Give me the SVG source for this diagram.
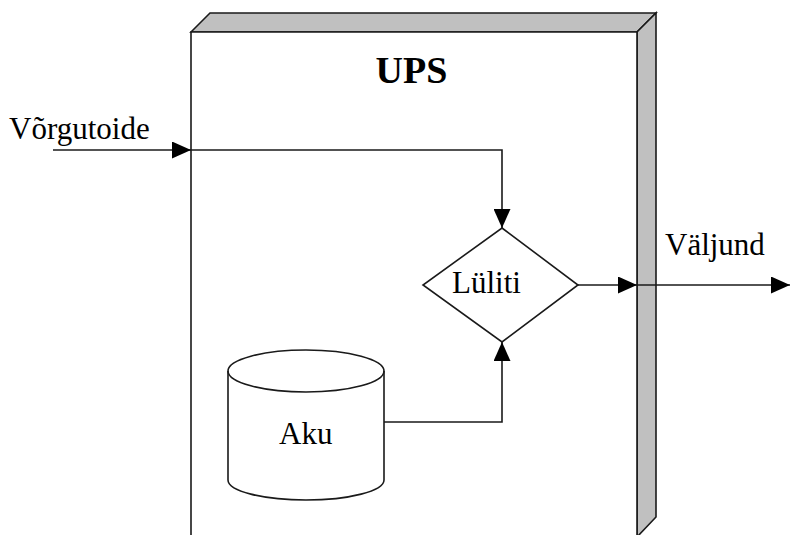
<svg xmlns="http://www.w3.org/2000/svg" width="790" height="535" viewBox="0 0 790 535">
<style>
.ln{fill:none;stroke:#1a1a1a;stroke-width:1.6}
.sh{stroke:#1a1a1a;stroke-width:1.6}
.t{font-family:"Liberation Serif","Times New Roman",serif;font-size:31px;fill:#000}
</style>
<defs>
<marker id="ah" viewBox="0 0 19 17" refX="19" refY="8.5" markerWidth="19" markerHeight="17" markerUnits="userSpaceOnUse" orient="auto">
<path d="M0,0 L19,8.5 L0,17 Z" fill="#000"/>
</marker>
</defs>
<rect width="790" height="535" fill="#fff"/>
<g id="ups">
<polygon class="sh" points="191,32 210,13 656,13 637,32" fill="#c0c0c0"/>
<polygon class="sh" points="637,32 656,13 656,517 637,537" fill="#c0c0c0"/>
<polygon class="sh" points="191,32 637,32 637,540 191,540" fill="#fff"/>
<text x="411.5" y="83" text-anchor="middle" class="t" style="font-weight:bold;font-size:38px">UPS</text>
</g>
<g id="vorgutoide">
<text x="9" y="139" class="t">Võrgutoide</text>
</g>
<g id="valjund">
<text x="665" y="255" class="t">Väljund</text>
</g>
<g id="luliti">
<polygon class="sh" points="502,228 578,285 502,342 423,285" fill="#fff"/>
<text x="452" y="293" class="t">Lüliti</text>
</g>
<g id="aku">
<path class="sh" fill="#fff" d="M228,371 L228,480 A78,20 0 0 0 384,480 L384,371 A78,21 0 0 0 228,371 Z"/>
<path class="ln" d="M228,371 A78,21 0 0 0 384,371"/>
<text x="279" y="444" class="t">Aku</text>
</g>
<g id="connectors">
<path class="ln" d="M53,150 L191,150" marker-end="url(#ah)"/>
<path class="ln" d="M191,150 L502,150 L502,228" marker-end="url(#ah)"/>
<path class="ln" d="M384,422 L502,422 L502,342" marker-end="url(#ah)"/>
<path class="ln" d="M578,285 L637,285" marker-end="url(#ah)"/>
<path class="ln" d="M637,285 L790,285" marker-end="url(#ah)"/>
</g>
</svg>
